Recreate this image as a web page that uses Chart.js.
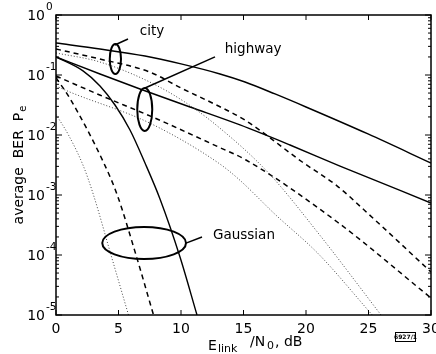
<!DOCTYPE html>
<html><head><meta charset="utf-8">
<script src="https://cdn.jsdelivr.net/npm/chart.js@4"></script>
<style>html,body{margin:0;padding:0;background:#fff}</style>
</head><body>
<canvas id="c" width="436" height="354"></canvas>
<script>
// ---- data ----
const xTicks = [0, 5, 10, 15, 20, 25, 30];
const yExponents = [0, -1, -2, -3, -4, -5];

const snrCitySolid = [0, 3.52, 7.12, 10, 13.12, 15.12, 17.52, 20, 24.96, 30];
const berCitySolid = [0.341, 0.271, 0.207, 0.153, 0.104, 0.0764, 0.0483, 0.0293, 0.0104, 0.00341];
const snrCityDashed = [0, 3.5, 7.5, 10, 13, 15.1, 19.7, 22.5, 25, 30];
const berCityDashed = [0.271, 0.185, 0.112, 0.0607, 0.0304, 0.0178, 0.00355, 0.00141, 4.82e-4, 5.21e-5];
const snrCityDotted = [0, 3.5, 7.5, 10.3, 13, 17, 21.1, 26];
const berCityDotted = [0.233, 0.165, 0.0764, 0.0355, 0.0136, 0.00233, 2.15e-4, 1e-5];

const snrHighwaySolid = [0, 3.52, 6.72, 10.72, 14.72, 18.72, 22.72, 30];
const berHighwaySolid = [0.2, 0.104, 0.0584, 0.0293, 0.0147, 0.00681, 0.00304, 7.36e-4];
const snrHighwayDashed = [0, 3.5, 7.9, 13, 15.2, 22.5, 30];
const berHighwayDashed = [0.0962, 0.0464, 0.0192, 0.00631, 0.00383, 3.55e-4, 1.92e-5];
const snrHighwayDotted = [0, 1.1, 7.5, 13, 14.6, 17.5, 21, 25.3];
const berHighwayDotted = [0.0656, 0.0521, 0.0158, 0.00341, 0.00185, 4.82e-4, 1.04e-4, 1e-5];

const snrGaussSolid = [0, 2.16, 3.52, 4.72, 5.92, 7.12, 8.32, 9.92, 11.28];
const berGaussSolid = [0.2, 0.117, 0.0656, 0.0316, 0.0121, 0.00341, 8.58e-4, 9.26e-5, 1e-5];
const snrGaussDashed = [0, 1.1, 3.8, 4.9, 6.4, 7.8];
const berGaussDashed = [0.09, 0.041, 0.0035, 0.001, 1e-4, 1e-5];
const snrGaussDotted = [0, 1.0, 2.2, 3.0, 4.4, 5.8];
const berGaussDotted = [0.022, 0.01, 0.003, 0.001, 1e-4, 1e-5];

const groupLabels = ['city', 'highway', 'Gaussian'];

// ---- annotation geometry in data units ----
const ellipses = [
  {x0: 4.3, x1: 5.2, y0: 0.329, y1: 0.104},
  {x0: 6.5, x1: 7.7, y0: 0.0607, y1: 0.0117},
  {x0: 3.7, x1: 10.4, y0: 2.93e-4, y1: 8.57e-5}
];
const pointers = [
  {x0: 4.7, y0: 0.316, x1: 5.76, y1: 0.398},
  {x0: 7.12, y0: 0.0607, x1: 12.72, y1: 0.2},
  {x0: 10.4, y0: 1.58e-4, x1: 11.68, y1: 2e-4}
];
const labelPos = [
  {x: 6.7, y: 0.464},
  {x: 13.5, y: 0.233},
  {x: 12.56, y: 1.85e-4}
];

function pts(xs, ys) { return xs.map((v, i) => ({x: v, y: ys[i]})); }
function solid(xs, ys) {
  return {data: pts(xs, ys), borderColor: '#000', borderWidth: 1.4, pointRadius: 0, cubicInterpolationMode: 'monotone', fill: false};
}
function dashed(xs, ys) {
  return {data: pts(xs, ys), borderColor: '#000', borderWidth: 1.5, borderDash: [5, 4], pointRadius: 0, cubicInterpolationMode: 'monotone', fill: false};
}
function dotted(xs, ys) {
  return {data: pts(xs, ys), borderColor: '#444', borderWidth: 1, borderDash: [1, 2], pointRadius: 0, cubicInterpolationMode: 'monotone', fill: false};
}

const FONT = '"DejaVu Sans", sans-serif';

const decor = {
  id: 'decor',
  afterDraw(chart) {
    const {ctx, chartArea: a, scales: {x, y}} = chart;
    ctx.save();
    ctx.strokeStyle = '#000';
    ctx.fillStyle = '#000';
    const line = (x0, y0, x1, y1) => { ctx.beginPath(); ctx.moveTo(x0, y0); ctx.lineTo(x1, y1); ctx.stroke(); };

    // frame
    ctx.lineWidth = 1.5;
    ctx.strokeRect(a.left, a.top, a.right - a.left, a.bottom - a.top);

    // x ticks
    ctx.lineWidth = 1;
    xTicks.forEach(v => {
      const px = x.getPixelForValue(v);
      line(px, a.bottom, px, a.bottom - 5);
      line(px, a.top, px, a.top + 5);
    });
    // y ticks (major + minor)
    yExponents.forEach(e => {
      const base = Math.pow(10, e);
      const py = y.getPixelForValue(base);
      line(a.left, py, a.left + 6, py);
      line(a.right, py, a.right - 6, py);
      if (e < 0) {
        for (let m = 2; m <= 9; m++) {
          const pm = y.getPixelForValue(base * m);
          line(a.left, pm, a.left + 3, pm);
          line(a.right, pm, a.right - 3, pm);
        }
      }
    });

    // x tick labels
    ctx.font = '14px ' + FONT;
    ctx.textAlign = 'center';
    ctx.textBaseline = 'top';
    xTicks.forEach(v => ctx.fillText(String(v), x.getPixelForValue(v), a.bottom + 7));

    // y tick labels 10^e
    yExponents.forEach(e => {
      const py = y.getPixelForValue(Math.pow(10, e));
      ctx.font = '14px ' + FONT;
      ctx.textAlign = 'right';
      ctx.textBaseline = 'middle';
      ctx.fillText('10', 45, py + 1);
      ctx.font = '10.5px ' + FONT;
      ctx.textAlign = 'left';
      ctx.textBaseline = 'alphabetic';
      ctx.fillText(e === 0 ? '0' : '-' + Math.abs(e), 46, py - 5);
    });

    // y title
    ctx.save();
    ctx.translate(23, 165);
    ctx.rotate(-Math.PI / 2);
    ctx.textAlign = 'left';
    ctx.textBaseline = 'alphabetic';
    const t1 = 'average  BER  P';
    ctx.font = '14px ' + FONT;
    const w1 = ctx.measureText(t1).width;
    ctx.font = '10px ' + FONT;
    const w2 = ctx.measureText('e').width;
    const total = w1 + w2 + 1;
    ctx.font = '14px ' + FONT;
    ctx.fillText(t1, -total / 2, 0);
    ctx.font = '10px ' + FONT;
    ctx.fillText('e', -total / 2 + w1 + 1, 3);
    ctx.restore();

    // x title
    ctx.textAlign = 'left';
    ctx.textBaseline = 'alphabetic';
    ctx.font = '14px ' + FONT;
    ctx.fillText('E', 208, 350);
    ctx.font = '11px ' + FONT;
    ctx.fillText('link', 218, 352);
    ctx.font = '14px ' + FONT;
    ctx.fillText('/N', 250, 346);
    ctx.font = '11px ' + FONT;
    ctx.fillText('0', 267, 349);
    ctx.font = '14px ' + FONT;
    ctx.fillText(', dB', 275, 346);

    // stamp
    ctx.lineWidth = 1;
    ctx.strokeRect(395.5, 332.5, 20, 9);
    ctx.font = 'bold 6px ' + FONT;
    ctx.textAlign = 'center';
    ctx.textBaseline = 'middle';
    ctx.fillText('6927/1', 405.5, 337.5);

    // ellipses
    ctx.lineWidth = 2;
    ellipses.forEach(el => {
      const px0 = x.getPixelForValue(el.x0), px1 = x.getPixelForValue(el.x1);
      const py0 = y.getPixelForValue(el.y0), py1 = y.getPixelForValue(el.y1);
      ctx.beginPath();
      ctx.ellipse((px0 + px1) / 2, (py0 + py1) / 2, Math.abs(px1 - px0) / 2, Math.abs(py1 - py0) / 2, 0, 0, Math.PI * 2);
      ctx.stroke();
    });
    ctx.lineWidth = 1.5;
    pointers.forEach(p => line(x.getPixelForValue(p.x0), y.getPixelForValue(p.y0), x.getPixelForValue(p.x1), y.getPixelForValue(p.y1)));

    ctx.font = '13.5px ' + FONT;
    ctx.textAlign = 'left';
    ctx.textBaseline = 'alphabetic';
    groupLabels.forEach((t, i) => ctx.fillText(t, x.getPixelForValue(labelPos[i].x), y.getPixelForValue(labelPos[i].y)));
    ctx.restore();
  }
};

new Chart(document.getElementById('c'), {
  type: 'line',
  data: {
    datasets: [
      solid(snrCitySolid, berCitySolid),
      dashed(snrCityDashed, berCityDashed),
      dotted(snrCityDotted, berCityDotted),
      solid(snrHighwaySolid, berHighwaySolid),
      dashed(snrHighwayDashed, berHighwayDashed),
      dotted(snrHighwayDotted, berHighwayDotted),
      solid(snrGaussSolid, berGaussSolid),
      dashed(snrGaussDashed, berGaussDashed),
      dotted(snrGaussDotted, berGaussDotted)
    ]
  },
  options: {
    responsive: false,
    animation: false,
    devicePixelRatio: 1,
    layout: {padding: {left: 56, right: 5, top: 15, bottom: 39}},
    plugins: {legend: {display: false}, tooltip: {enabled: false}},
    scales: {
      x: {type: 'linear', min: 0, max: 30, display: false},
      y: {type: 'logarithmic', min: 1e-5, max: 1, display: false}
    }
  },
  plugins: [decor]
});
</script>
</body></html>
